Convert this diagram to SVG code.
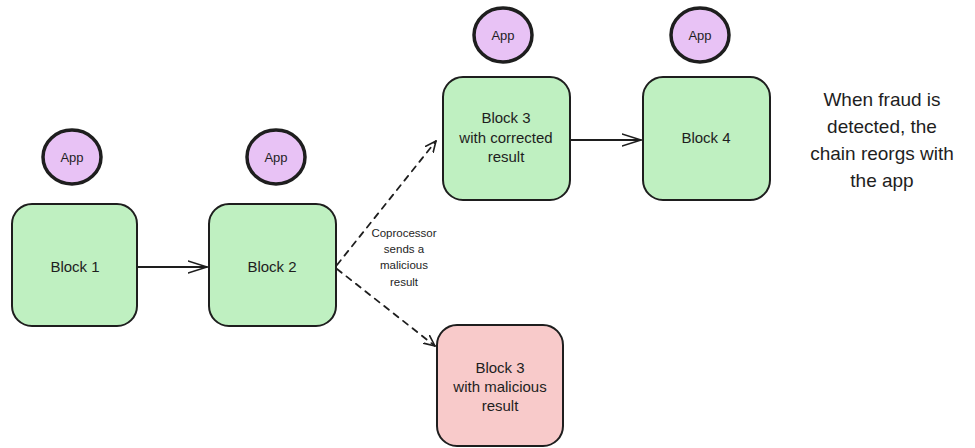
<svg xmlns="http://www.w3.org/2000/svg" width="975" height="448" viewBox="0 0 975 448">
  <defs>
    <marker id="chev" viewBox="0 0 12 12" refX="11" refY="6" markerWidth="12" markerHeight="12" markerUnits="userSpaceOnUse" orient="auto">
      <path d="M0,1 L11,6 L0,11" fill="none" stroke="#1e1e1e" stroke-width="1.6" stroke-linecap="round" stroke-linejoin="round"/>
    </marker>
    <marker id="chev-big" viewBox="0 0 20 14" refX="19" refY="7" markerWidth="20" markerHeight="14" markerUnits="userSpaceOnUse" orient="auto">
      <path d="M0,1 L19,7 L0,13" fill="none" stroke="#1e1e1e" stroke-width="1.6" stroke-linecap="round" stroke-linejoin="round"/>
    </marker>
  </defs>
  <style>
    .block { stroke: #1e1e1e; stroke-width: 2; }
    .ok { fill: #bff0c1; }
    .bad { fill: #f8caca; }
    .app { fill: #e8c2f5; stroke: #1e1e1e; stroke-width: 3.5; }
    .lbl { font-family: "Liberation Sans", "DejaVu Sans", sans-serif; font-size: 15px; fill: #1e1e1e; text-anchor: middle; }
    .app-lbl { font-family: "Liberation Sans", "DejaVu Sans", sans-serif; font-size: 13px; fill: #1e1e1e; text-anchor: middle; }
    .small { font-family: "Liberation Sans", "DejaVu Sans", sans-serif; font-size: 11.5px; fill: #1e1e1e; text-anchor: middle; }
    .note { font-family: "Liberation Sans", "DejaVu Sans", sans-serif; font-size: 19px; fill: #1e1e1e; text-anchor: middle; }
    .edge { fill: none; stroke: #1e1e1e; stroke-width: 1.8; stroke-linecap: round; }
    .dash { stroke-dasharray: 6 6; }
  </style>

  <!-- connectors -->
  <g id="connectors">
    <line class="edge" x1="138" y1="267" x2="207" y2="267" marker-end="url(#chev-big)"/>
    <line class="edge dash" x1="337" y1="265" x2="436" y2="141" marker-end="url(#chev)"/>
    <line class="edge dash" x1="337" y1="269" x2="435" y2="346" marker-end="url(#chev)"/>
    <line class="edge" x1="571" y1="140" x2="641" y2="140" marker-end="url(#chev-big)"/>
    <text class="small" x="404" y="237">Coprocessor</text>
    <text class="small" x="404" y="253">sends a</text>
    <text class="small" x="404" y="269">malicious</text>
    <text class="small" x="404" y="286">result</text>
  </g>

  <!-- chain blocks -->
  <g id="block1">
    <rect class="block ok" x="12" y="204" width="125" height="122" rx="20"/>
    <text class="lbl" x="75" y="272">Block 1</text>
  </g>
  <g id="app1">
    <ellipse class="app" cx="72" cy="157" rx="29" ry="27"/>
    <text class="app-lbl" x="72" y="162">App</text>
  </g>

  <g id="block2">
    <rect class="block ok" x="209" y="204" width="127" height="122" rx="20"/>
    <text class="lbl" x="272" y="272">Block 2</text>
  </g>
  <g id="app2">
    <ellipse class="app" cx="276" cy="157" rx="29" ry="27"/>
    <text class="app-lbl" x="276" y="162">App</text>
  </g>

  <g id="block3-corrected">
    <rect class="block ok" x="443" y="77" width="127" height="123" rx="20"/>
    <text class="lbl" x="506" y="123">Block 3</text>
    <text class="lbl" x="506" y="143">with corrected</text>
    <text class="lbl" x="506" y="162">result</text>
  </g>
  <g id="app3">
    <ellipse class="app" cx="503" cy="35" rx="29" ry="27"/>
    <text class="app-lbl" x="503" y="40">App</text>
  </g>

  <g id="block4">
    <rect class="block ok" x="643" y="77" width="127" height="123" rx="20"/>
    <text class="lbl" x="706" y="143">Block 4</text>
  </g>
  <g id="app4">
    <ellipse class="app" cx="700" cy="35" rx="29" ry="27"/>
    <text class="app-lbl" x="700" y="40">App</text>
  </g>

  <g id="block3-malicious">
    <rect class="block bad" x="437" y="325" width="126" height="121" rx="20"/>
    <text class="lbl" x="500" y="373">Block 3</text>
    <text class="lbl" x="500" y="392">with malicious</text>
    <text class="lbl" x="500" y="411">result</text>
  </g>

  <!-- side note -->
  <g id="note">
    <text class="note" x="882" y="106">When fraud is</text>
    <text class="note" x="882" y="133">detected, the</text>
    <text class="note" x="882" y="160">chain reorgs with</text>
    <text class="note" x="882" y="187">the app</text>
  </g>
</svg>
